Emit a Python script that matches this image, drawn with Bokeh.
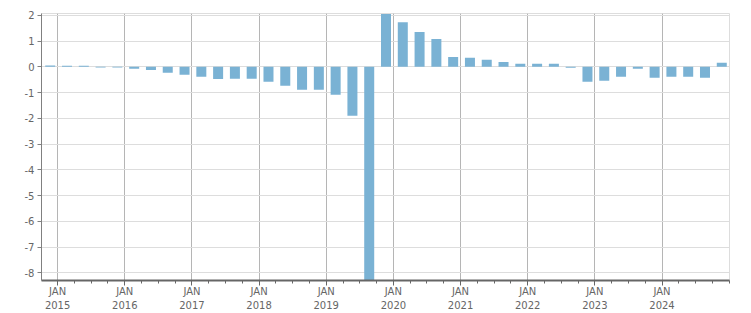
import pandas as pd
from bokeh.plotting import figure
from bokeh.models import Range1d, FixedTicker, CustomJSTickFormatter, ColumnDataSource
from bokeh.embed import file_html
from bokeh.resources import INLINE

# Quarterly periods, 2014Q4 .. 2024Q4
quarters = [str(q) for q in pd.period_range("2014Q4", "2024Q4", freq="Q")]
values = [0.05, 0.04, 0.04, -0.03, -0.03, -0.08, -0.12, -0.23, -0.31, -0.39,
          -0.47, -0.46, -0.46, -0.58, -0.74, -0.89, -0.89, -1.09, -1.90, -9.0,
          2.05, 1.73, 1.35, 1.08, 0.38, 0.35, 0.27, 0.19, 0.12, 0.12,
          0.12, -0.04, -0.58, -0.54, -0.39, -0.08, -0.43, -0.39, -0.39, -0.43,
          0.16]
year_ticks = list(range(2015, 2025))
y_ticks = list(range(-8, 3))

per = pd.PeriodIndex(quarters, freq="Q")
xpos = [p.year + (p.quarter - 1) * 0.25 + 0.14 for p in per]
src = ColumnDataSource(dict(x=xpos, v=values, q=quarters))

p = figure(width=751, height=313, output_backend="svg", toolbar_location=None,
           x_range=Range1d(2014.76, 2025.005), y_range=Range1d(-8.3, 2.07),
           min_border_left=41, min_border_right=22, min_border_top=13,
           min_border_bottom=32)
p.background_fill_color = "white"
p.border_fill_color = "white"
p.outline_line_color = "#dddddd"

p.vbar(x="x", top="v", bottom=0, width=0.149, source=src,
       fill_color="#7AB2D4", line_color=None)

minor = [y + k * 0.25 for y in range(2014, 2026) for k in range(4)]
p.xaxis.ticker = FixedTicker(ticks=year_ticks, minor_ticks=minor)
p.xaxis.formatter = CustomJSTickFormatter(code="return 'JAN\\n' + tick.toFixed(0);")
p.xaxis.axis_line_width = 2
p.xaxis.axis_line_color = "#666666"
p.xaxis.major_tick_line_color = "#666666"
p.xaxis.major_tick_out = 5
p.xaxis.major_tick_in = 0
p.xaxis.minor_tick_line_color = "#666666"
p.xaxis.minor_tick_out = 3
p.xaxis.minor_tick_in = 0
p.xaxis.major_label_standoff = 0
p.xaxis.major_label_text_line_height = 1.3

p.yaxis.ticker = FixedTicker(ticks=y_ticks)
p.yaxis.formatter = CustomJSTickFormatter(code="return tick.toFixed(0);")
p.yaxis.axis_line_color = "#808080"
p.yaxis.major_tick_line_color = "#808080"
p.yaxis.major_tick_out = 4
p.yaxis.major_tick_in = 0
p.yaxis.minor_tick_line_color = None
p.yaxis.major_label_standoff = 3

for ax in (p.xaxis, p.yaxis):
    ax.major_label_text_font = "DejaVu Sans"
    ax.major_label_text_font_size = "10px"
    ax.major_label_text_color = "#666666"

p.xgrid.grid_line_color = "#b5b5b5"
p.ygrid.grid_line_color = "#dddddd"

open("out.html", "w").write(file_html(p, INLINE))
